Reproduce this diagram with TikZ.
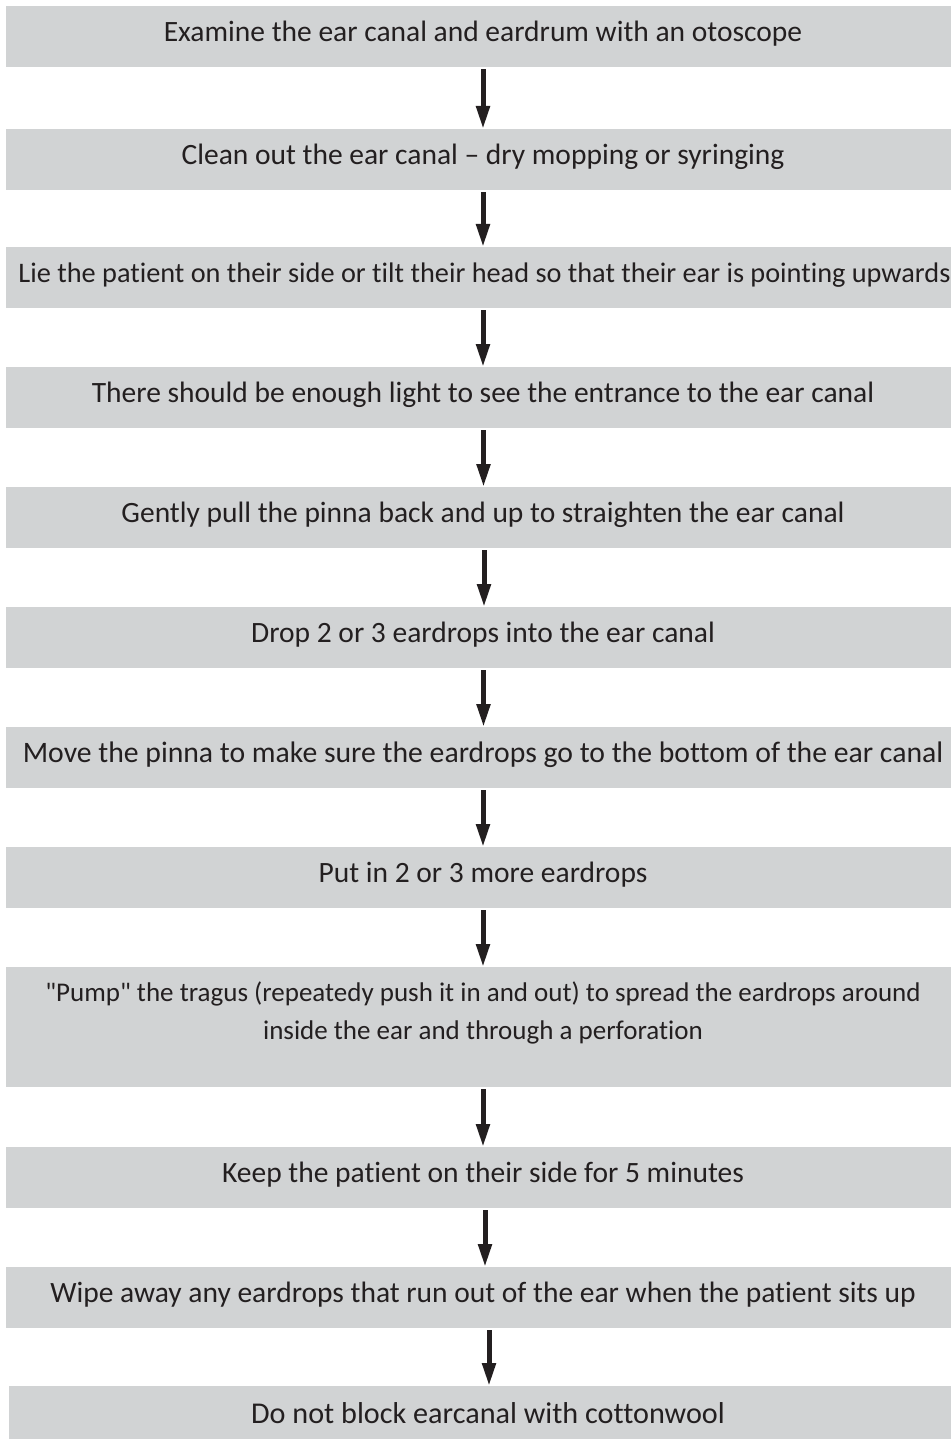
\documentclass[tikz,border=0pt]{standalone}
\usepackage{fontspec}
\setmainfont{Carlito}[Ligatures={NoCommon}]
\usetikzlibrary{arrows.meta}
\definecolor{boxgray}{HTML}{D1D3D4}
\definecolor{ink}{HTML}{231F20}
\tikzset{
  stepbox/.style={fill=boxgray, draw=none, text=ink, inner xsep=0pt, inner ysep=0pt,
    minimum width=954pt, align=center, text height=35pt, text depth=26pt,
    font=\fontsize{29.5}{38}\selectfont},
  flowarrow/.style={draw=ink, line width=5pt, -{Triangle[length=23pt,width=13pt]}, shorten <=2pt},
}
\begin{document}
\begin{tikzpicture}[x=1pt,y=-1pt]
\useasboundingbox (0,0) rectangle (950,1439);
\node[stepbox, anchor=north] (b1) at (483,6) {Examine the ear canal and eardrum with an otoscope};
\node[stepbox, anchor=north] (b2) at (483,129) {Clean out the ear canal -- dry mopping or syringing};
\node[stepbox, anchor=north, minimum width=957pt, font=\fontsize{28.3}{38}\selectfont] (b3) at (484.5,247) {Lie the patient on their side or tilt their head so that their ear is pointing upwards};
\node[stepbox, anchor=north] (b4) at (483,367) {There should be enough light to see the entrance to the ear canal};
\node[stepbox, anchor=north] (b5) at (483,487) {Gently pull the pinna back and up to straighten the ear canal};
\node[stepbox, anchor=north] (b6) at (483,607) {Drop 2 or 3 eardrops into the ear canal};
\node[stepbox, anchor=north, font=\fontsize{29.7}{38}\selectfont] (b7) at (483,727) {Move the pinna to make sure the eardrops go to the bottom of the ear canal};
\node[stepbox, anchor=north] (b8) at (483,847) {Put in 2 or 3 more eardrops};
\node[stepbox, anchor=north, font=\fontsize{27}{38}\selectfont, text height=72pt, text depth=48pt] (b9) at (483,967) {\textquotedbl Pump\textquotedbl{} the tragus (repeatedy push it in and out) to spread the eardrops around\\inside the ear and through a perforation};
\node[stepbox, anchor=north] (b10) at (483,1147) {Keep the patient on their side for 5 minutes};
\node[stepbox, anchor=north] (b11) at (483,1267) {Wipe away any eardrops that run out of the ear when the patient sits up};
\node[stepbox, anchor=north, minimum width=958pt, text height=37pt, text depth=24pt, font=\fontsize{30.2}{38}\selectfont] (b12) at (488,1386) {Do not block earcanal with cottonwool};
\draw[flowarrow] (b1.south) -- (b2.north);
\draw[flowarrow] (b2.south) -- (b3.north -| b2.south);
\draw[flowarrow] (b3.south -| b2.south) -- (b4.north);
\draw[flowarrow] ([xshift=0.5pt]b4.south) -- ([xshift=0.5pt]b5.north);
\draw[flowarrow] ([xshift=1pt]b5.south) -- ([xshift=1pt]b6.north);
\draw[flowarrow] ([xshift=0.5pt]b6.south) -- ([xshift=0.5pt]b7.north);
\draw[flowarrow] (b7.south) -- (b8.north);
\draw[flowarrow] (b8.south) -- (b9.north);
\draw[flowarrow] (b9.south) -- (b10.north);
\draw[flowarrow] ([xshift=2pt]b10.south) -- ([xshift=2pt]b11.north);
\draw[flowarrow] ([xshift=6pt]b11.south) -- ([xshift=1pt]b12.north);
\end{tikzpicture}
\end{document}
